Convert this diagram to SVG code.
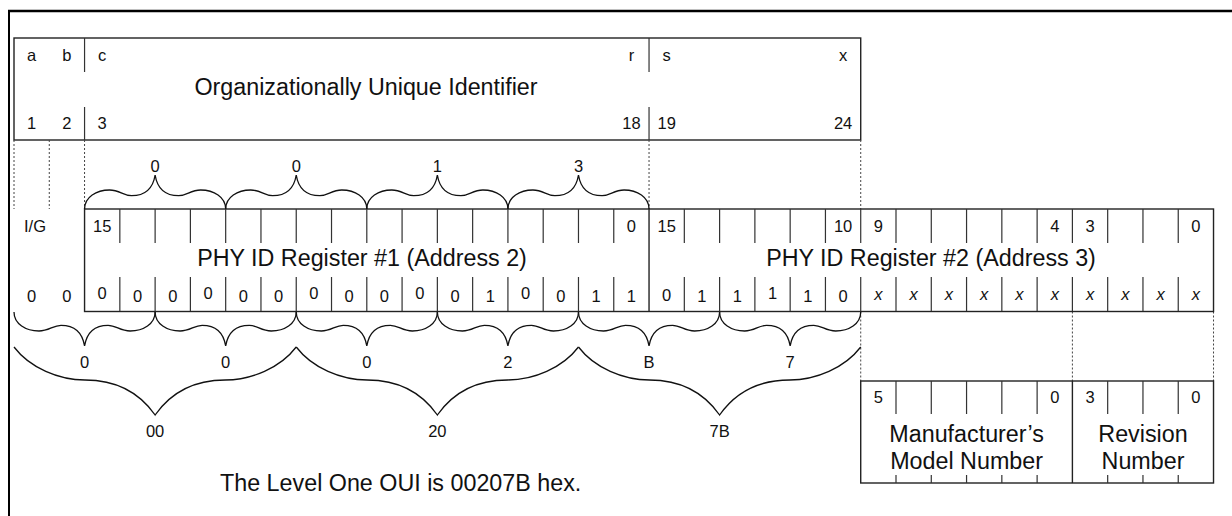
<svg xmlns="http://www.w3.org/2000/svg" xmlns:xlink="http://www.w3.org/1999/xlink" width="1232" height="516" viewBox="0 0 1232 516">
<style>
text{font-family:"Liberation Sans",Arial,Helvetica,sans-serif;fill:#111}
.s{font-size:16.5px;text-anchor:middle}
.b{font-size:23.3px;text-anchor:middle}
.box{fill:none;stroke:#222;stroke-width:1.4}
.tk{stroke:#333;stroke-width:1.2}
.dot{stroke:#444;stroke-width:1;stroke-dasharray:2 2}
.br{fill:none;stroke:#111;stroke-width:1.3}
.it{font-style:italic}
</style>
<defs>
<path id="sb" d="M0,0 C0,-12 12,-19 25,-19 C35,-19 39,-13.3 47,-13.3 C58,-13.3 68,-18 70.56,-34 C73.12,-18 83.12,-13.3 94.12,-13.3 C102.12,-13.3 106.12,-19 116.12,-19 C129.12,-19 141.12,-12 141.12,0"/>
<path id="bb" d="M0,0 C16,21 45,33 71,33 C101,33 125,45 141.12,68 C157.24,45 181.24,33 211.24,33 C237.24,33 266.24,21 282.24,0"/>
</defs>

<g id="frame">
<line x1="8" y1="11" x2="1232" y2="11" stroke="#000" stroke-width="2.5"/>
<line x1="9" y1="10" x2="9" y2="516" stroke="#000" stroke-width="2"/>
</g>

<g id="oui">
<rect class="box" x="14" y="38" width="846.72" height="102"/>
<line class="tk" x1="84.56" y1="38" x2="84.56" y2="72"/>
<line class="tk" x1="84.56" y1="107" x2="84.56" y2="140"/>
<line class="tk" x1="649.04" y1="38" x2="649.04" y2="72"/>
<line class="tk" x1="649.04" y1="107" x2="649.04" y2="140"/>
<text class="s" x="31.64" y="60.5">a</text>
<text class="s" x="66.92" y="60.5">b</text>
<text class="s" x="102.2" y="60.5">c</text>
<text class="s" x="631.4" y="60.5">r</text>
<text class="s" x="666.68" y="60.5">s</text>
<text class="s" x="843.08" y="60.5">x</text>
<text class="b" x="366" y="95">Organizationally Unique Identifier</text>
<text class="s" x="31.64" y="129">1</text>
<text class="s" x="66.92" y="129">2</text>
<text class="s" x="102.2" y="129">3</text>
<text class="s" x="631.4" y="129">18</text>
<text class="s" x="666.68" y="129">19</text>
<text class="s" x="843.08" y="129">24</text>
</g>

<g id="guides">
<line class="dot" x1="14" y1="140" x2="14" y2="209"/>
<line class="dot" x1="49.28" y1="140" x2="49.28" y2="209"/>
<line class="dot" x1="84.56" y1="140" x2="84.56" y2="209"/>
<line class="dot" x1="649.04" y1="140" x2="649.04" y2="209"/>
<line class="dot" x1="860.72" y1="140" x2="860.72" y2="209"/>
<line class="dot" x1="860.72" y1="311.5" x2="860.72" y2="381"/>
<line class="dot" x1="1072.4" y1="311.5" x2="1072.4" y2="381"/>
<line class="dot" x1="1213.52" y1="311.5" x2="1213.52" y2="381"/>
</g>

<g id="ig">
<text x="24" y="232" style="font-size:16.5px">I/G</text>
<text class="s" x="31.64" y="302">0</text>
<text class="s" x="66.92" y="302">0</text>
</g>

<g id="registers">
<rect class="box" x="84.56" y="209" width="1128.96" height="102.5"/>
<line class="box" x1="649.04" y1="209" x2="649.04" y2="311.5"/>
<path class="tk" d="M119.84,209V243M155.12,209V243M190.4,209V243M225.68,209V243M260.96,209V243M296.24,209V243M331.52,209V243M366.8,209V243M402.08,209V243M437.36,209V243M472.64,209V243M507.92,209V243M543.2,209V243M578.48,209V243M613.76,209V243M684.32,209V243M719.6,209V243M754.88,209V243M790.16,209V243M825.44,209V243M860.72,209V243M896,209V243M931.28,209V243M966.56,209V243M1001.84,209V243M1037.12,209V243M1072.4,209V243M1107.68,209V243M1142.96,209V243M1178.24,209V243"/>
<path class="tk" d="M119.84,277V311M155.12,277V311M190.4,277V311M225.68,277V311M260.96,277V311M296.24,277V311M331.52,277V311M366.8,277V311M402.08,277V311M437.36,277V311M472.64,277V311M507.92,277V311M543.2,277V311M578.48,277V311M613.76,277V311M684.32,277V311M719.6,277V311M754.88,277V311M790.16,277V311M825.44,277V311M860.72,277V311M896,277V311M931.28,277V311M966.56,277V311M1001.84,277V311M1037.12,277V311M1072.4,277V311M1107.68,277V311M1142.96,277V311M1178.24,277V311"/>
<text class="s" x="102.2" y="232">15</text>
<text class="s" x="631.4" y="232">0</text>
<text class="s" x="666.68" y="232">15</text>
<text class="s" x="843.08" y="232">10</text>
<text class="s" x="878.36" y="232">9</text>
<text class="s" x="1054.76" y="232">4</text>
<text class="s" x="1090.04" y="232">3</text>
<text class="s" x="1195.88" y="232">0</text>
<text class="b" x="362" y="265.7">PHY ID Register #1 (Address 2)</text>
<text class="b" x="931" y="265.7">PHY ID Register #2 (Address 3)</text>
<text class="s" x="102.2" y="299">0</text>
<text class="s" x="137.48" y="301.5">0</text>
<text class="s" x="172.76" y="301.5">0</text>
<text class="s" x="208.04" y="299">0</text>
<text class="s" x="243.32" y="301.5">0</text>
<text class="s" x="278.6" y="301.5">0</text>
<text class="s" x="313.88" y="299">0</text>
<text class="s" x="349.16" y="301.5">0</text>
<text class="s" x="384.44" y="301.5">0</text>
<text class="s" x="419.72" y="299">0</text>
<text class="s" x="455" y="301.5">0</text>
<text class="s" x="490.28" y="301.5">1</text>
<text class="s" x="525.56" y="299">0</text>
<text class="s" x="560.84" y="301.5">0</text>
<text class="s" x="596.12" y="301.5">1</text>
<text class="s" x="631.4" y="301.5">1</text>
<text class="s" x="666.68" y="300.5">0</text>
<text class="s" x="701.96" y="301.5">1</text>
<text class="s" x="737.24" y="301.5">1</text>
<text class="s" x="772.52" y="299">1</text>
<text class="s" x="807.8" y="301.5">1</text>
<text class="s" x="843.08" y="301.5">0</text>
<text class="s it" x="878.36" y="300">x</text>
<text class="s it" x="913.64" y="300">x</text>
<text class="s it" x="948.92" y="300">x</text>
<text class="s it" x="984.2" y="300">x</text>
<text class="s it" x="1019.48" y="300">x</text>
<text class="s it" x="1054.76" y="300">x</text>
<text class="s it" x="1090.04" y="300">x</text>
<text class="s it" x="1125.32" y="300">x</text>
<text class="s it" x="1160.6" y="300">x</text>
<text class="s it" x="1195.88" y="300">x</text>
</g>

<g id="braces">
<use xlink:href="#sb" href="#sb" class="br" transform="translate(84.56,209)"/>
<use xlink:href="#sb" href="#sb" class="br" transform="translate(225.68,209)"/>
<use xlink:href="#sb" href="#sb" class="br" transform="translate(366.8,209)"/>
<use xlink:href="#sb" href="#sb" class="br" transform="translate(507.92,209)"/>
<use xlink:href="#sb" href="#sb" class="br" transform="translate(14,312) scale(1,-1)"/>
<use xlink:href="#sb" href="#sb" class="br" transform="translate(155.12,312) scale(1,-1)"/>
<use xlink:href="#sb" href="#sb" class="br" transform="translate(296.24,312) scale(1,-1)"/>
<use xlink:href="#sb" href="#sb" class="br" transform="translate(437.36,312) scale(1,-1)"/>
<use xlink:href="#sb" href="#sb" class="br" transform="translate(578.48,312) scale(1,-1)"/>
<use xlink:href="#sb" href="#sb" class="br" transform="translate(719.6,312) scale(1,-1)"/>
<use xlink:href="#bb" href="#bb" class="br" transform="translate(14,347)"/>
<use xlink:href="#bb" href="#bb" class="br" transform="translate(296.24,347)"/>
<use xlink:href="#bb" href="#bb" class="br" transform="translate(578.48,347)"/>
</g>

<g id="brace-labels">
<text class="s" x="155.12" y="172">0</text>
<text class="s" x="296.24" y="172">0</text>
<text class="s" x="437.36" y="172">1</text>
<text class="s" x="578.48" y="172">3</text>
<text class="s" x="84.56" y="368">0</text>
<text class="s" x="225.68" y="368">0</text>
<text class="s" x="366.8" y="368">0</text>
<text class="s" x="507.92" y="368">2</text>
<text class="s" x="649.04" y="368">B</text>
<text class="s" x="790.16" y="368">7</text>
<text class="s" x="155.12" y="437">00</text>
<text class="s" x="437.36" y="437">20</text>
<text class="s" x="719.6" y="437">7B</text>
</g>

<g id="fields">
<rect class="box" x="860.72" y="381" width="352.8" height="102"/>
<line class="box" x1="1072.4" y1="381" x2="1072.4" y2="483"/>
<path class="tk" d="M896,381V414M931.28,381V414M966.56,381V414M1001.84,381V414M1037.12,381V414M1107.68,381V414M1142.96,381V414M1178.24,381V414"/>
<path class="tk" d="M896,475V483M931.28,475V483M966.56,475V483M1001.84,475V483M1037.12,475V483M1107.68,475V483M1142.96,475V483M1178.24,475V483"/>
<text class="s" x="878.36" y="403">5</text>
<text class="s" x="1054.76" y="403">0</text>
<text class="s" x="1090.04" y="403">3</text>
<text class="s" x="1195.88" y="403">0</text>
<text class="b" x="966.6" y="441.7">Manufacturer’s</text>
<text class="b" x="966.6" y="469">Model Number</text>
<text class="b" x="1143" y="441.7">Revision</text>
<text class="b" x="1143" y="469">Number</text>
</g>

<g id="caption">
<text x="220" y="490.7" style="font-size:23.3px">The Level One OUI is 00207B hex.</text>
</g>
</svg>
